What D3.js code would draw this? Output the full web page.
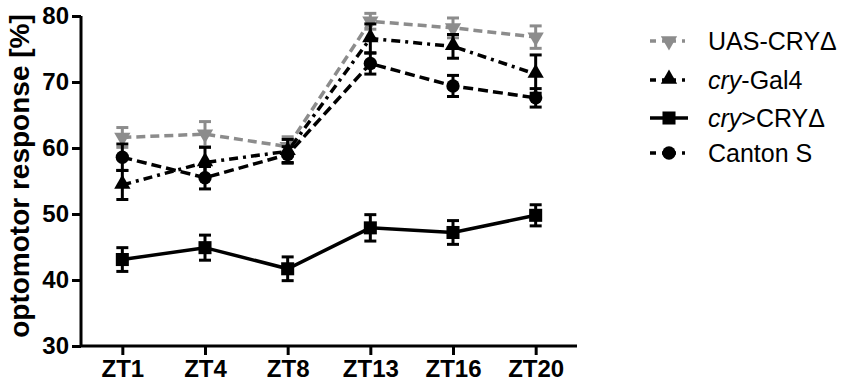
<!DOCTYPE html>
<html>
<head>
<meta charset="utf-8">
<script src="https://cdn.jsdelivr.net/npm/d3@7"></script>
<style>
  html, body { margin: 0; padding: 0; background: #fff; }
  svg { display: block; font-family: Arial, "Liberation Sans", sans-serif; }
</style>
</head>
<body>
<svg id="chart" width="850" height="389"></svg>
<script>
const categories = ["ZT1", "ZT4", "ZT8", "ZT13", "ZT16", "ZT20"];
const yTicks = [30, 40, 50, 60, 70, 80];

const uasValues   = [61.6, 62.1, 60.2, 79.2, 78.2, 76.8];
const uasErrors   = [1.5, 1.9, 1.5, 1.2, 1.5, 1.7];
const galValues   = [54.4, 57.8, 59.5, 76.6, 75.4, 71.2];
const galErrors   = [2.2, 2.3, 1.8, 2.2, 1.8, 2.9];
const cryValues   = [43.1, 44.9, 41.7, 47.9, 47.2, 49.8];
const cryErrors   = [1.8, 1.9, 1.8, 2.0, 1.8, 1.6];
const cantValues  = [58.6, 55.5, 59.0, 72.8, 69.4, 67.6];
const cantErrors  = [2.0, 1.7, 1.2, 1.6, 1.6, 1.4];

const seriesNames = ["UAS-CRYΔ", "cry-Gal4", "cry>CRYΔ", "Canton S"];

const svg = d3.select("#chart");
const x = d3.scalePoint().domain(categories).range([81, 577]).padding(0.5);
const y = d3.scaleLinear().domain([30, 80]).range([346, 16]);

const GRAY = "#8c8c8c";
const series = [
  { name: seriesNames[0], values: uasValues, errors: uasErrors, color: GRAY, dash: "9,5", symbol: "down" },
  { name: seriesNames[3], values: cantValues, errors: cantErrors, color: "#000", dash: "10,5", symbol: "circle" },
  { name: seriesNames[1], values: galValues, errors: galErrors, color: "#000", dash: "9,5,3,5", symbol: "up" },
  { name: seriesNames[2], values: cryValues, errors: cryErrors, color: "#000", dash: null, symbol: "square" }
];

function symbolPath(kind) {
  if (kind === "circle") return d3.symbol(d3.symbolCircle, 140)();
  if (kind === "square") return d3.symbol(d3.symbolSquare, 170)();
  return d3.symbol(d3.symbolTriangle, 115)();
}
function symbolTransform(kind, cx, cy) {
  if (kind === "down") return `translate(${cx},${cy}) rotate(180)`;
  if (kind === "up") return `translate(${cx},${cy - 1})`;
  return `translate(${cx},${cy})`;
}

// Axes
const yAxis = d3.axisLeft(y).tickValues(yTicks).tickSize(9).tickPadding(3);
const xAxis = d3.axisBottom(x).tickSize(9).tickPadding(5);

const gy = svg.append("g").attr("transform", "translate(81,0)").call(yAxis);
const gx = svg.append("g").attr("transform", "translate(0,346)").call(xAxis);
[gy, gx].forEach(g => {
  g.select(".domain").attr("stroke", "#000").attr("stroke-width", 3);
  g.selectAll(".tick line").attr("stroke", "#000").attr("stroke-width", 3);
  g.selectAll(".tick text").attr("fill", "#000").attr("font-size", 24).attr("font-weight", "bold")
    .attr("font-family", "Arial, 'Liberation Sans', sans-serif");
});
gy.select(".domain").attr("d", "M0,346V16");
gx.select(".domain").attr("d", "M81,0H577");
gx.selectAll(".tick text").attr("dy", "0.72em");

// Y title
svg.append("text")
  .attr("transform", "translate(29,176) rotate(-90)")
  .attr("text-anchor", "middle")
  .attr("font-size", 28).attr("font-weight", "bold").attr("fill", "#000")
  .text("optomotor response [%]");

// Series
const line = d3.line().x((d, i) => x(categories[i])).y(d => y(d));
series.forEach(s => {
  const g = svg.append("g");
  g.append("path").attr("d", line(s.values)).attr("fill", "none")
    .attr("stroke", s.color).attr("stroke-width", 3.5)
    .attr("stroke-dasharray", s.dash);
  s.values.forEach((v, i) => {
    const cx = x(categories[i]);
    const y1 = y(v + s.errors[i]), y2 = y(v - s.errors[i]);
    g.append("line").attr("x1", cx).attr("x2", cx).attr("y1", y1).attr("y2", y2)
      .attr("stroke", s.color).attr("stroke-width", 3);
    [y1, y2].forEach(yy => g.append("line").attr("x1", cx - 6).attr("x2", cx + 6)
      .attr("y1", yy).attr("y2", yy).attr("stroke", s.color).attr("stroke-width", 3));
    g.append("path").attr("d", symbolPath(s.symbol))
      .attr("transform", symbolTransform(s.symbol, cx, y(v))).attr("fill", s.color);
  });
});

// Legend
const legendRows = [
  { s: series[0], y: 41, parts: [["UAS-CRYΔ", false]] },
  { s: series[2], y: 80, parts: [["cry", true], ["-Gal4", false]] },
  { s: series[3], y: 118, parts: [["cry", true], [">CRYΔ", false]] },
  { s: series[1], y: 153, parts: [["Canton S", false]] }
];
const lg = svg.append("g");
legendRows.forEach(r => {
  const s = r.s;
  lg.append("line").attr("x1", 650).attr("x2", 688).attr("y1", r.y).attr("y2", r.y)
    .attr("stroke", s.color).attr("stroke-width", 3.5)
    .attr("stroke-dasharray", s.dash ? (s.symbol === "square" ? null : "6,6,14,6,3,20") : null);
  lg.append("path").attr("d", symbolPath(s.symbol))
    .attr("transform", symbolTransform(s.symbol, 669, r.y)).attr("fill", s.color);
  const t = lg.append("text").attr("x", 708).attr("y", r.y).attr("dy", "0.36em")
    .attr("font-size", 25).attr("fill", "#000");
  r.parts.forEach(p => t.append("tspan").attr("font-style", p[1] ? "italic" : null).text(p[0]));
});
</script>
</body>
</html>
